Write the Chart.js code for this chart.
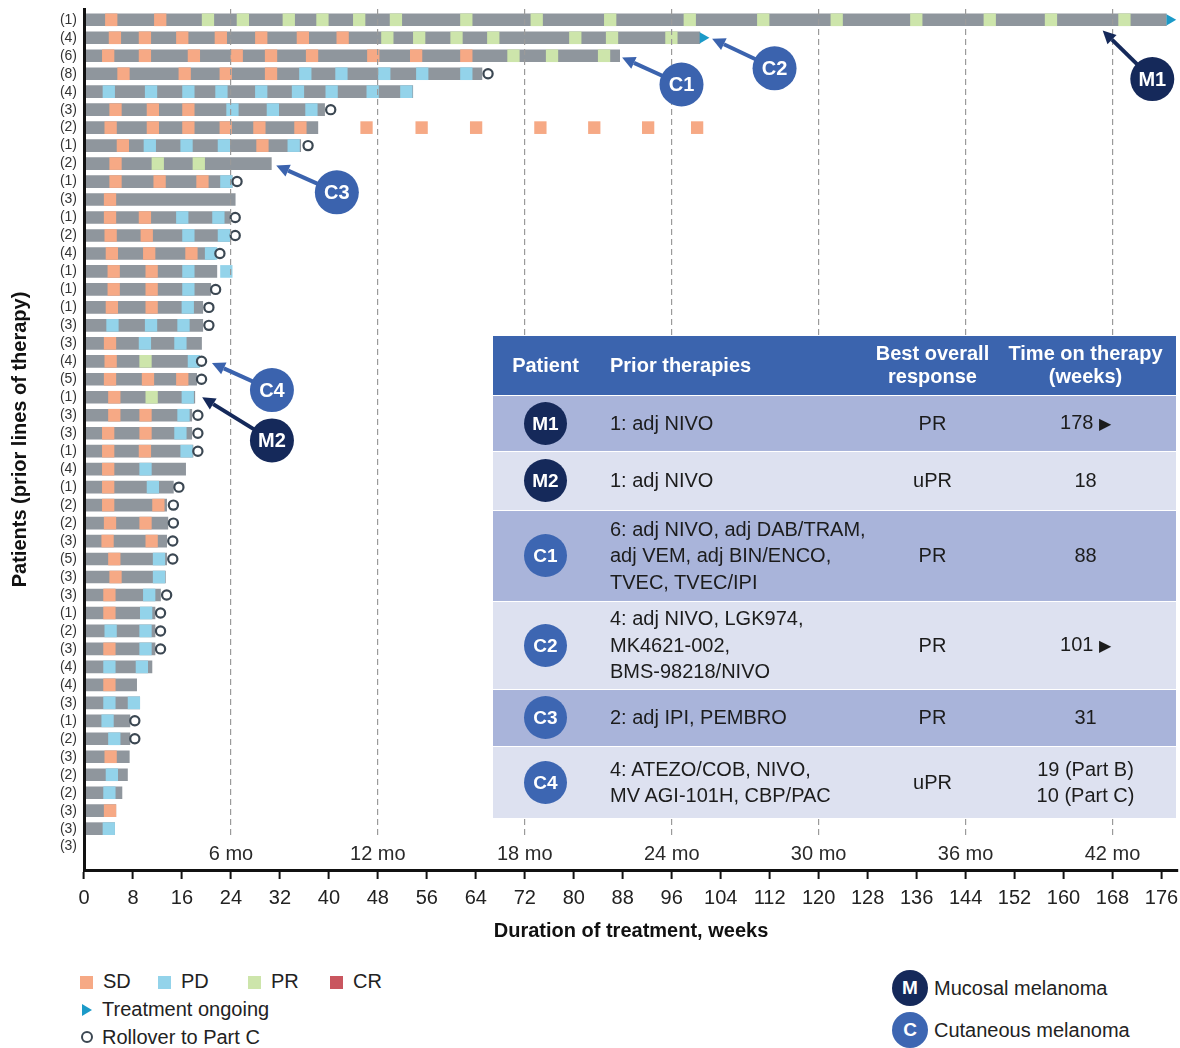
<!DOCTYPE html>
<html>
<head>
<meta charset="utf-8">
<script src="https://cdn.jsdelivr.net/npm/chart.js@4.4.0/dist/chart.umd.min.js"></script>
<style>
  body { margin: 0; background: #fff; font-family: 'Liberation Sans', Arial, sans-serif; color: #222; }
  #wrap { position: relative; width: 1180px; height: 1048px; overflow: hidden; }
  #chartBox { position: absolute; left: 0; top: 0; width: 1180px; height: 950px; }
  #tbl { position: absolute; left: 493px; top: 336px; width: 683px; border-collapse: collapse; table-layout: fixed; font-size: 20px; }
  #tbl th { background: #3b64ae; color: #fff; font-weight: bold; font-size: 20px; line-height: 23px; text-align: center; }
  #tbl td { text-align: center; line-height: 26.5px; border-top: 1px solid #fff; color: #1c1c1c; }
  #tbl .l { text-align: left; padding-left: 12px; white-space: nowrap; }
  #tbl tr.dk td { background: #a9b4da; }
  #tbl tr.lt td { background: #dde1f0; }
  .bd { display: inline-block; width: 43px; height: 43px; border-radius: 50%; color: #fff; font-weight: bold; font-size: 19px; line-height: 43px; text-align: center; }
  .bd.m { background: #15295a; }
  .bd.c { background: #3d66b2; }
  .lg { position: absolute; font-size: 20px; line-height: 22px; height: 22px; white-space: nowrap; color: #222; }
  .sq { display: inline-block; width: 13px; height: 13px; margin-right: 10px; vertical-align: -1px; }
  .big { position: absolute; width: 36px; height: 36px; border-radius: 50%; color: #fff; font-weight: bold; font-size: 19px; line-height: 36px; text-align: center; }
</style>
</head>
<body>
<div id="wrap">
  <div id="chartBox"><canvas id="swimmer"></canvas></div>
  <table id="tbl"></table>

  <div class="lg" style="left:80px;top:970px"><i class="sq" style="background:#f6a985"></i>SD</div>
  <div class="lg" style="left:158px;top:970px"><i class="sq" style="background:#93d3ea"></i>PD</div>
  <div class="lg" style="left:248px;top:970px"><i class="sq" style="background:#cde5ab"></i>PR</div>
  <div class="lg" style="left:330px;top:970px"><i class="sq" style="background:#c9565f"></i>CR</div>
  <div class="lg" style="left:82px;top:998px"><i style="display:inline-block;width:0;height:0;border-left:10px solid #1b9ac8;border-top:6px solid transparent;border-bottom:6px solid transparent;margin-right:10px;vertical-align:0px"></i>Treatment ongoing</div>
  <div class="lg" style="left:81px;top:1026px"><i style="display:inline-block;width:8px;height:8px;border:2px solid #3b4752;border-radius:50%;margin-right:9px;vertical-align:1px"></i>Rollover to Part C</div>

  <div class="big" style="left:892px;top:970px;background:#15295a">M</div>
  <div class="lg" style="left:934px;top:977px">Mucosal melanoma</div>
  <div class="big" style="left:892px;top:1012px;background:#3d66b2">C</div>
  <div class="lg" style="left:934px;top:1019px">Cutaneous melanoma</div>
</div>

<script>
// prior lines of therapy, one per patient row (top to bottom)
const lines = [1,4,6,8,4,3,2,1,2,1,3,1,2,4,1,1,1,3,3,4,5,1,3,3,1,4,1,2,2,3,5,3,3,1,2,3,4,4,3,1,2,3,2,2,3,3,3];

// time on treatment, weeks (null = no bar)
const durations = [176.8,100.6,87.5,65,53.7,39.3,38.2,35.4,30.6,24.2,24.7,23.8,23.8,21.4,21.7,20.7,19.4,19.4,19.2,18.8,18.4,18.1,17.6,17.6,17.8,16.6,14.6,13.5,13.7,13.5,13.5,13.3,12.5,11.6,11.6,11.6,11.1,8.6,9.1,7.5,7.5,7.4,7.1,6.2,5.2,5,null];

// response assessments (start week of each mark) per row
const sdWeeks = [
  [3.5,11.5],
  [4.1,9,15.1,21.4,28,34.8,41.3],
  [3,9,17,24,29.6,36.3,46.3,53.3,61.5],
  [5.5,15.5,22.2,29.6],
  [],
  [4.2,10.3,16.1],
  [3.4,10.3,16.1,22.2,27.7,34.4,45.2,54.2,63.1,73.6,82.4,91.2,99.2],
  [5.4,28.2],
  [4.2],
  [4.2,11.4,18.4],
  [3.3],
  [3.3,9],
  [3.4,9.3],
  [3.6,9.7,16.6],
  [3.9,10.1],
  [3.9,10.1],
  [3.6,10.1],
  [],
  [3.3],
  [3.4],
  [3.3,9.5,15.1],
  [4],
  [4,9.1],
  [3,9.1],
  [3,9],
  [3],
  [3],
  [3,11.2],
  [3.3,9.1],
  [2.9,10.1],
  [4],
  [4.2],
  [3.2],
  [3.2],
  [],
  [3.2],
  [],
  [3.2],
  [],[],[],
  [3.4],
  [],[],
  [3.3],
  [],[]
];
const pdWeeks = [
  [],[],[],
  [35.2,41.1,48.1,54.3,61.5],
  [3.1,10,16.1,21.5,28,34,39.5,46.2,51.7],
  [23.3,29.9,36.2],
  [],
  [9.8,15.8,21.9,33.3],
  [],
  [22.3],
  [],
  [15.1,21],
  [16.1,21.9],
  [19.8],
  [16.1,22.3],
  [16.1],
  [16],
  [3.7,10,15.3],
  [9,14.8],
  [17],
  [],
  [16],
  [15.3],
  [14.8],
  [15.8],
  [9.1],
  [10.3],
  [],[],[],
  [11.3],
  [11.3],
  [9.7],
  [9.2],
  [3.4,9.1],
  [9.1],
  [3.2,8.5],
  [],
  [3.2,7.2],
  [2.9],
  [4],
  [],
  [3.6],
  [3.2],
  [],
  [3.1],
  []
];
const prWeeks = [
  [19.3,25,32.5,38,44,50,61.5,73,85,98,110,122,135,147,157,169],
  [48.6,53.8,59.9,65.9,79.3,85.3,95],
  [69.2,75.5,84],
  [],[],[],[],[],
  [11.1,17.8],
  [],[],[],[],[],[],[],[],[],[],
  [9.1],
  [],
  [10.1]
];
const crWeeks = [];

// rollover to Part C (week of the circle), per row
const rolloverWeeks = [null,null,null,66,null,40.3,null,36.6,null,25,null,24.7,24.7,22.2,null,21.5,20.4,20.4,null,19.2,19.2,null,18.6,18.6,18.6,null,15.5,14.6,14.6,14.5,14.5,null,13.5,12.5,12.5,12.5,null,null,null,8.3,8.3,null,null,null,null,null,null];
// treatment ongoing arrows (week), per row
const ongoingWeeks = [177.35,101.1];

const monthMarks = [6,12,18,24,30,36,42];
const MARK = 1.9; // width of one assessment mark, weeks

// patient table
const patientIds = ['M1','M2','C1','C2','C3','C4'];
const priorTherapies = ['1: adj NIVO','1: adj NIVO','6: adj NIVO, adj DAB/TRAM,<br>adj VEM, adj BIN/ENCO,<br>TVEC, TVEC/IPI','4: adj NIVO, LGK974,<br>MK4621-002,<br>BMS-98218/NIVO','2: adj IPI, PEMBRO','4: ATEZO/COB, NIVO,<br>MV AGI-101H, CBP/PAC'];
const bestResponse = ['PR','uPR','PR','PR','PR','uPR'];
const timeOnTherapy = ['178 <span style="font-size:16px">&#9654;</span>','18','88','101 <span style="font-size:16px">&#9654;</span>','31','19 (Part B)<br>10 (Part C)'];
const rowHeights = [56,59,91,88,57,72];

// callouts: bubble position and arrow tip, in (week, row)
const callouts = [
  {id:'C1', from:[97.6,3.6], to:[87.9,2.1]},
  {id:'C2', from:[112.8,2.7], to:[102.6,1.05]},
  {id:'M1', from:[174.5,3.3], to:[166.4,0.6]},
  {id:'C3', from:[41.3,9.6], to:[31.4,8.1]},
  {id:'C4', from:[30.7,20.6], to:[20.9,19.1]},
  {id:'M2', from:[30.7,23.4], to:[19.3,21.0]}
];

// ---- table ----
const tbl = document.getElementById('tbl');
let html = '<colgroup><col style="width:105px"><col style="width:272px"><col style="width:125px"><col style="width:181px"></colgroup>';
html += '<tr style="height:59px"><th>Patient</th><th class="l">Prior therapies</th><th>Best overall<br>response</th><th>Time on therapy<br>(weeks)</th></tr>';
patientIds.forEach((p, i) => {
  const cls = p[0] === 'M' ? 'm' : 'c';
  html += `<tr class="${i % 2 ? 'lt' : 'dk'}" style="height:${rowHeights[i]}px">` +
    `<td><span class="bd ${cls}">${p}</span></td>` +
    `<td class="l">${priorTherapies[i]}</td>` +
    `<td>${bestResponse[i]}</td>` +
    `<td>${timeOnTherapy[i]}</td></tr>`;
});
tbl.innerHTML = html;

// ---- chart ----
function spans(list) {
  const out = [];
  list.forEach((weeks, row) => (weeks || []).forEach(w => out.push({ x: [w, w + MARK], y: row })));
  return out;
}
const barData = durations.map((d, row) => d == null ? null : { x: [0, d], y: row }).filter(Boolean);
const circleData = rolloverWeeks.map((w, row) => w == null ? null : { x: w, y: row }).filter(Boolean);
const arrowData = ongoingWeeks.map((w, row) => ({ x: w, y: row }));

const FONT = "'Liberation Sans', Arial, sans-serif";

const calloutPlugin = {
  id: 'callouts',
  afterDraw(chart) {
    const { ctx, scales: { x, y }, chartArea } = chart;
    ctx.save();
    // month labels
    ctx.font = `20px ${FONT}`;
    ctx.textAlign = 'center';
    ctx.textBaseline = 'middle';
    monthMarks.forEach(m => {
      const px = x.getPixelForValue(m * 4);
      const label = m + ' mo';
      const w = ctx.measureText(label).width;
      ctx.fillStyle = '#fff';
      ctx.fillRect(px - w / 2 - 6, chartArea.bottom - 33, w + 12, 31);
      ctx.fillStyle = '#2a2a2a';
      ctx.fillText(label, px, chartArea.bottom - 16);
    });
    // callout bubbles with arrows
    callouts.forEach(c => {
      const color = c.id[0] === 'M' ? '#15295a' : '#3b63ae';
      const bx = x.getPixelForValue(c.from[0]), by = y.getPixelForValue(c.from[1]);
      const tx = x.getPixelForValue(c.to[0]), ty = y.getPixelForValue(c.to[1]);
      const ang = Math.atan2(ty - by, tx - bx);
      const head = 13, half = 6.5;
      const baseX = tx - Math.cos(ang) * head, baseY = ty - Math.sin(ang) * head;
      ctx.strokeStyle = color;
      ctx.fillStyle = color;
      ctx.lineWidth = 4;
      ctx.beginPath();
      ctx.moveTo(bx, by);
      ctx.lineTo(baseX, baseY);
      ctx.stroke();
      ctx.beginPath();
      ctx.moveTo(tx, ty);
      ctx.lineTo(baseX + Math.sin(ang) * half, baseY - Math.cos(ang) * half);
      ctx.lineTo(baseX - Math.sin(ang) * half, baseY + Math.cos(ang) * half);
      ctx.closePath();
      ctx.fill();
      ctx.beginPath();
      ctx.arc(bx, by, 22, 0, Math.PI * 2);
      ctx.fill();
      ctx.fillStyle = '#fff';
      ctx.font = `bold 20px ${FONT}`;
      ctx.fillText(c.id, bx, by + 1);
    });
    ctx.restore();
  }
};

new Chart(document.getElementById('swimmer'), {
  type: 'bar',
  data: {
    datasets: [
      { label: 'Treatment', data: barData, backgroundColor: '#8f969d', barThickness: 12, grouped: false, order: 5 },
      { label: 'SD', data: spans(sdWeeks), backgroundColor: '#f6a985', barThickness: 12, grouped: false, order: 2 },
      { label: 'PD', data: spans(pdWeeks), backgroundColor: '#93d3ea', barThickness: 12, grouped: false, order: 2 },
      { label: 'PR', data: spans(prWeeks), backgroundColor: '#cde5ab', barThickness: 12, grouped: false, order: 2 },
      { label: 'CR', data: spans(crWeeks), backgroundColor: '#c9565f', barThickness: 12, grouped: false, order: 2 },
      { type: 'scatter', label: 'Rollover to Part C', data: circleData, pointStyle: 'circle', pointRadius: 4.6,
        pointBorderWidth: 2.2, pointBorderColor: '#3b4752', pointBackgroundColor: '#fff', order: 0 },
      { type: 'scatter', label: 'Treatment ongoing', data: arrowData, pointStyle: 'triangle', pointRotation: 90,
        pointRadius: 6.5, pointBorderWidth: 0, pointBackgroundColor: '#1b9ac8', pointBorderColor: '#1b9ac8', order: 0 }
    ]
  },
  options: {
    indexAxis: 'y',
    responsive: true,
    maintainAspectRatio: false,
    animation: false,
    layout: { autoPadding: false, padding: { top: 9, right: 2, left: 0, bottom: 0 } },
    plugins: { legend: { display: false }, tooltip: { enabled: false } },
    scales: {
      x: {
        type: 'linear',
        min: 0,
        max: 178.7,
        afterFit(s) { s.height = 80; s.paddingLeft = 0; s.paddingRight = 0; },
        ticks: {
          stepSize: 8,
          includeBounds: false,
          autoSkip: false,
          maxRotation: 0,
          padding: 7,
          color: '#222',
          font: { family: FONT, size: 20 }
        },
        grid: {
          z: 1,
          lineWidth: 1.2,
          color: ctx => (ctx.tick && ctx.tick.value > 0 && ctx.tick.value % 24 === 0) ? '#9a9a9a' : 'rgba(0,0,0,0)',
          tickColor: '#111',
          tickWidth: 2,
          tickLength: 9,
          tickBorderDash: []
        },
        border: { color: '#111', width: 3, dash: [6, 4], z: 2 },
        title: {
          display: true,
          text: 'Duration of treatment, weeks',
          color: '#111',
          font: { family: FONT, size: 20, weight: 'bold' },
          padding: { top: 0, bottom: 7 }
        }
      },
      y: {
        type: 'linear',
        reverse: true,
        min: -0.6,
        max: 47.3,
        offset: false,
        afterFit(s) { s.width = 84; s.paddingTop = 0; s.paddingBottom = 0; },
        ticks: {
          stepSize: 1,
          includeBounds: false,
          autoSkip: false,
          padding: 7,
          color: '#333',
          font: { family: FONT, size: 14 },
          callback: v => (Number.isInteger(v) && v >= 0 && v < lines.length) ? '(' + lines[v] + ')' : ''
        },
        grid: { display: false, drawTicks: false, offset: false },
        border: { color: '#111', width: 3, z: 2 },
        title: {
          display: true,
          text: 'Patients (prior lines of therapy)',
          color: '#111',
          font: { family: FONT, size: 20, weight: 'bold' },
          padding: { top: 8, bottom: 0 }
        }
      }
    }
  },
  plugins: [calloutPlugin]
});
</script>
</body>
</html>
